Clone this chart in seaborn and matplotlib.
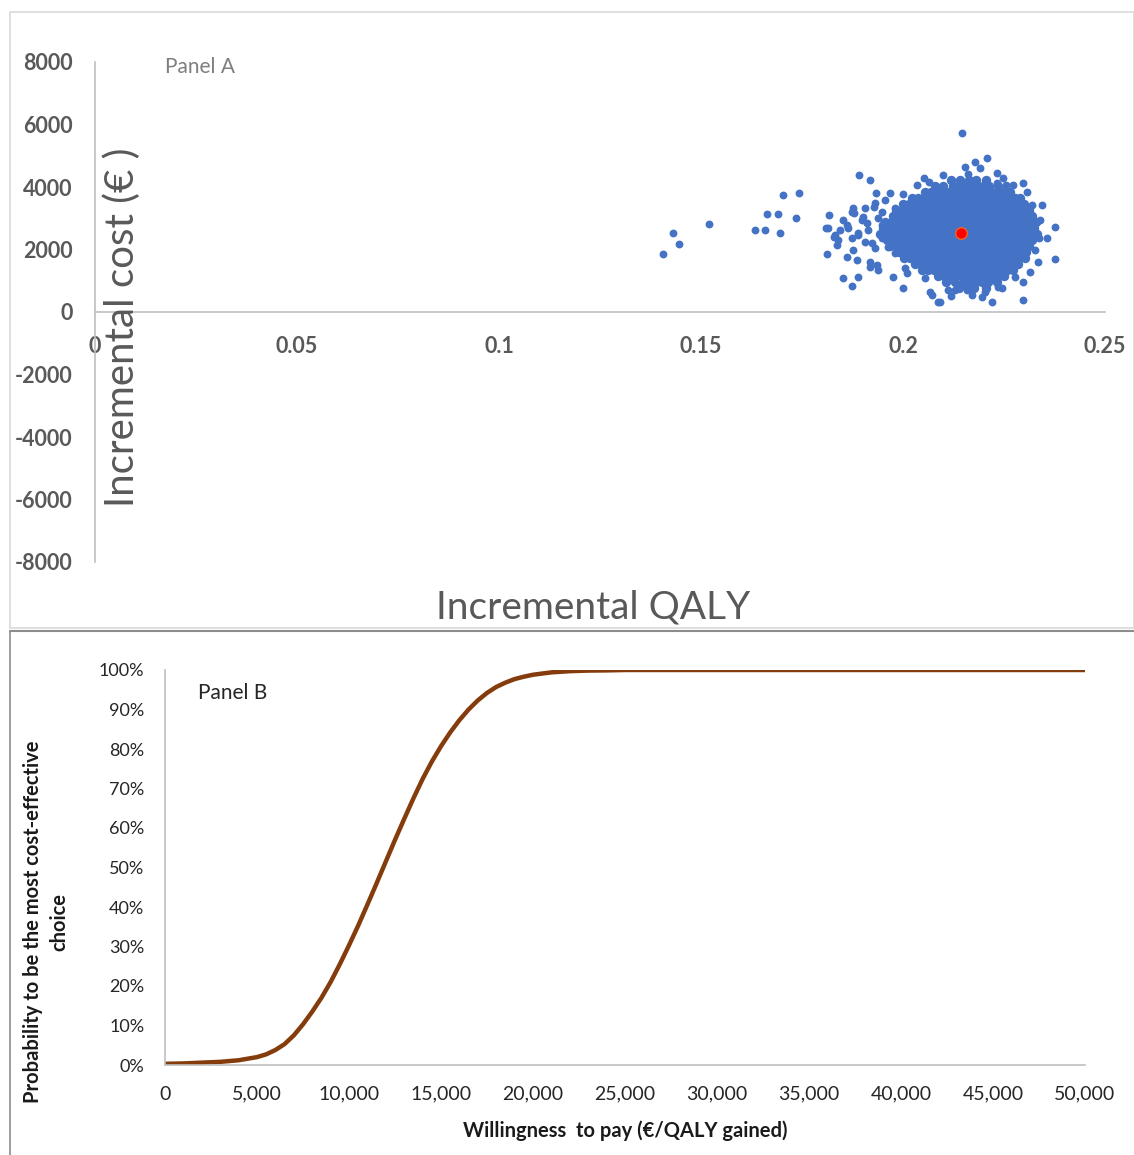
import matplotlib
matplotlib.use('Agg')
import matplotlib.pyplot as plt
import matplotlib.ticker as mticker
from matplotlib.patches import Rectangle
from matplotlib.lines import Line2D
import pandas as pd
import seaborn as sns

# ---- Panel A data (incremental QALY, incremental cost) ----
# dense core of the cloud, read row by row (cost level -> QALY values x 1e-4)
core_costs = [4220, 4030, 3840, 3650, 3460, 3260, 3070, 2880, 2690, 2500,
              2300, 2110, 1920, 1730, 1540, 1340, 1150, 960, 770]
core_qaly_rows = [
    [2120, 2141, 2163, 2180, 2206],
    [2079, 2100, 2124, 2139, 2154, 2169, 2184, 2199, 2214, 2236],
    [2054, 2069, 2084, 2099, 2114, 2129, 2144, 2159, 2174, 2189, 2204, 2219, 2234, 2249, 2264],
    [2022, 2037, 2052, 2067, 2082, 2097, 2112, 2127, 2142, 2157, 2172, 2187, 2202, 2217, 2232,
     2247, 2262, 2277, 2290],
    [2000, 2015, 2030, 2045, 2060, 2075, 2090, 2105, 2120, 2135, 2150, 2165, 2180, 2195, 2210,
     2225, 2240, 2255, 2270, 2285, 2300],
    [1983, 1998, 2013, 2028, 2043, 2058, 2073, 2088, 2103, 2118, 2133, 2148, 2163, 2178, 2193,
     2208, 2223, 2238, 2253, 2268, 2283, 2298, 2313],
    [1975, 1990, 2005, 2020, 2035, 2050, 2065, 2080, 2095, 2110, 2125, 2140, 2155, 2170, 2185,
     2200, 2215, 2230, 2245, 2260, 2275, 2290, 2305, 2320],
    [1955, 1970, 1985, 2000, 2015, 2030, 2045, 2060, 2075, 2090, 2105, 2120, 2135, 2150, 2165,
     2180, 2195, 2210, 2225, 2240, 2255, 2270, 2285, 2300, 2315, 2329],
    [1950, 1965, 1980, 1995, 2010, 2025, 2040, 2055, 2070, 2085, 2100, 2115, 2130, 2145, 2160,
     2175, 2190, 2205, 2220, 2235, 2250, 2265, 2280, 2295, 2310, 2325],
    [1943, 1958, 1973, 1988, 2003, 2018, 2033, 2048, 2063, 2078, 2093, 2108, 2123, 2138, 2153,
     2168, 2183, 2198, 2213, 2228, 2243, 2258, 2273, 2288, 2303, 2318, 2332],
    [1960, 1975, 1990, 2005, 2020, 2035, 2050, 2065, 2080, 2095, 2110, 2125, 2140, 2155, 2170,
     2185, 2200, 2215, 2230, 2245, 2260, 2275, 2290, 2305, 2320],
    [1968, 1983, 1998, 2013, 2028, 2043, 2058, 2073, 2088, 2103, 2118, 2133, 2148, 2163, 2178,
     2193, 2208, 2223, 2238, 2253, 2268, 2283, 2298, 2313],
    [1990, 2005, 2020, 2035, 2050, 2065, 2080, 2095, 2110, 2125, 2140, 2155, 2170, 2185, 2200,
     2215, 2230, 2245, 2260, 2275, 2290, 2305],
    [2002, 2017, 2032, 2047, 2062, 2077, 2092, 2107, 2122, 2137, 2152, 2167, 2182, 2197, 2212,
     2227, 2242, 2257, 2272, 2287, 2302],
    [2030, 2045, 2060, 2075, 2090, 2105, 2120, 2135, 2150, 2165, 2180, 2195, 2210, 2225, 2240,
     2255, 2270, 2285],
    [2047, 2062, 2077, 2092, 2107, 2122, 2137, 2152, 2167, 2182, 2197, 2212, 2227, 2242, 2257, 2272],
    [2086, 2101, 2116, 2131, 2146, 2161, 2176, 2191, 2206, 2221, 2236, 2250],
    [2106, 2128, 2151, 2166, 2181, 2196, 2211, 2233],
    [2138, 2160, 2176, 2205],
]

# scattered points around the core
scatter_qaly = [0.1405, 0.1431, 0.1446, 0.1520, 0.1634, 0.1659, 0.1663, 0.1691, 0.1695, 0.1703,
                0.1734, 0.1743,
                0.2145, 0.2178, 0.2207, 0.2153, 0.2191, 0.2232, 0.2100, 0.2232, 0.2273, 0.2298,
                0.2306, 0.2343, 0.2319, 0.1892, 0.1918, 0.2052, 0.2035, 0.1933, 0.1968, 0.2001,
                0.1875, 0.1879, 0.1817,
                0.1815, 0.1832, 0.1836, 0.1811, 0.1865, 0.1889, 0.1914, 0.1947, 0.1906, 0.1931,
                0.1873, 0.1840, 0.1898, 0.1939, 0.1972, 0.1964, 0.1980, 0.1927, 0.1947, 0.1980,
                0.1902, 0.1873, 0.1861, 0.1889, 0.1910, 0.1923, 0.1947, 0.1906, 0.1931, 0.1955,
                0.1852, 0.1877, 0.1844, 0.1809, 0.1828,
                0.1852, 0.1874, 0.1889, 0.1861, 0.1885, 0.1918, 0.1935, 0.1918, 0.1939, 0.1976,
                0.2001, 0.2005, 0.2009, 0.2050, 0.2054, 0.2067, 0.2071, 0.2087,
                0.2376, 0.2337, 0.2356, 0.2376, 0.2335, 0.2314, 0.2298, 0.2298, 0.2277, 0.2244,
                0.2236, 0.2203, 0.2195, 0.2220, 0.2158, 0.2129, 0.2112, 0.2092, 0.2339, 0.2327,
                0.2065, 0.2160, 0.2248, 0.2255, 0.2172, 0.2118]
scatter_cost = [1846, 2534, 2186, 2806, 2634, 2634, 3146, 3146, 2528, 3744,
                3018, 3818,
                5738, 4810, 4918, 4650, 4598, 4438, 4384, 4118, 4064, 4118,
                3850, 3424, 3424, 4384, 4224, 4278, 4064, 3798, 3798, 3766,
                3318, 3158, 3104,
                2678, 2464, 2144, 1846, 2678, 2518, 2624, 2784, 2250, 2038,
                2358, 2304, 2944, 2998, 2570, 2090, 1878, 3370, 3210, 3318,
                3050, 3210, 2784, 2464, 2838, 2198, 2358, 3318, 3478, 3584,
                2944, 1984, 2624, 2698, 2410,
                1078, 832, 1130, 1770, 1664, 1610, 1504, 1450, 1344, 1130,
                778, 1398, 1238, 1398, 1078, 650, 544, 330,
                2730, 2358, 2358, 1686, 1610, 1290, 970, 384, 1130, 758,
                810, 650, 490, 310, 704, 704, 704, 310, 2944, 1984,
                4150, 4420, 4280, 4060, 560, 520]

mean_qaly = [0.2143]
mean_cost = [2538]

# ---- Panel B data (CEAC) ----
wtp = [0, 1000, 2000, 3000, 4000, 5000, 5500, 6000, 6500, 7000, 7500, 8000, 8500, 9000,
       9500, 10000, 10500, 11000, 11500, 12000, 12500, 13000, 13500, 14000, 14500, 15000,
       15500, 16000, 16500, 17000, 17500, 18000, 18500, 19000, 19500, 20000, 21000, 22000,
       23000, 24000, 25000, 50000]
prob = [0.003, 0.004, 0.006, 0.008, 0.012, 0.020, 0.027, 0.038, 0.053, 0.075, 0.103, 0.135,
        0.170, 0.210, 0.255, 0.303, 0.353, 0.406, 0.460, 0.515, 0.570, 0.623, 0.675, 0.724,
        0.768, 0.807, 0.842, 0.873, 0.900, 0.923, 0.942, 0.957, 0.968, 0.977, 0.983, 0.988,
        0.994, 0.997, 0.9985, 0.999, 1.0, 1.0]

# build the scatter tables
rows_q, rows_c = [], []
for c, qs in zip(core_costs, core_qaly_rows):
    for q in qs:
        rows_q.append(q / 10000)
        rows_c.append(c)
df_core = pd.DataFrame({'qaly': rows_q, 'cost': rows_c})
df_pts = pd.DataFrame({'qaly': scatter_qaly, 'cost': scatter_cost})
df_b = pd.DataFrame({'wtp': wtp, 'prob': prob})

sns.set_style('white')
plt.rcParams['font.family'] = ['Lato', 'DejaVu Sans']
plt.rcParams['axes.unicode_minus'] = False

fig = plt.figure(figsize=(11.34, 11.55), dpi=100)
W, H = 1134, 1155

grey_txt = '#595959'
axis_grey = '#BFBFBF'
blue = '#4472C4'

# ---------------- Panel A ----------------
ax1 = fig.add_axes([95 / W, 1 - 562 / H, 1010 / W, 500 / H])
sns.scatterplot(data=df_core, x='qaly', y='cost', ax=ax1, color=blue, s=46,
                linewidth=0, legend=False)
sns.scatterplot(data=df_pts, x='qaly', y='cost', ax=ax1, color=blue, s=32,
                linewidth=0, legend=False)
ax1.scatter(mean_qaly, mean_cost, s=70, color='#FF0000', edgecolor='#F26522',
            linewidth=1, zorder=5)
ax1.set_xlim(0, 0.25)
ax1.set_ylim(-8000, 8000)
ax1.spines['top'].set_visible(False)
ax1.spines['right'].set_visible(False)
ax1.spines['bottom'].set_position(('data', 0))
ax1.spines['left'].set_position(('data', 0))
for s in ['bottom', 'left']:
    ax1.spines[s].set_color(axis_grey)
    ax1.spines[s].set_linewidth(1.2)
ax1.set_xticks([0, 0.05, 0.1, 0.15, 0.2, 0.25])
ax1.set_xticklabels(['0', '0.05', '0.1', '0.15', '0.2', '0.25'])
ax1.set_yticks(range(-8000, 8001, 2000))
ax1.tick_params(axis='x', direction='out', length=5, width=1.2, color=axis_grey,
                pad=12, labelsize=15.5, labelcolor=grey_txt)
ax1.tick_params(axis='y', length=0, pad=16, labelsize=15.5, labelcolor=grey_txt)
for lab in ax1.get_xticklabels() + ax1.get_yticklabels():
    lab.set_fontweight('bold')
ax1.set_xlabel('')
ax1.set_ylabel('')
ax1.text(165 / W, 1 - 67 / H, 'Panel A', transform=fig.transFigure, fontsize=15,
         color='#7F7F7F', va='center', ha='left')
fig.text(122 / W, 1 - 327 / H, 'Incremental cost (€ )', rotation=90, fontsize=29,
         color=grey_txt, ha='center', va='center')
fig.text(593 / W, 1 - 607 / H, 'Incremental QALY', fontsize=28, color=grey_txt,
         ha='center', va='center')

# ---------------- Panel B ----------------
ax2 = fig.add_axes([165 / W, 1 - 1065 / H, 920 / W, 395 / H])
sns.lineplot(data=df_b, x='wtp', y='prob', ax=ax2, color='#843C0C', linewidth=3.2)
ax2.lines[0].set_solid_joinstyle('round')
ax2.set_xlim(0, 50000)
ax2.set_ylim(0, 1)
ax2.spines['top'].set_visible(False)
ax2.spines['right'].set_visible(False)
for s in ['bottom', 'left']:
    ax2.spines[s].set_color(axis_grey)
    ax2.spines[s].set_linewidth(1.2)
ax2.set_xticks(range(0, 50001, 5000))
ax2.xaxis.set_major_formatter(mticker.FuncFormatter(lambda v, p: f'{int(v):,}'))
ax2.set_yticks([i / 10 for i in range(11)])
ax2.yaxis.set_major_formatter(mticker.PercentFormatter(1.0, decimals=0))
ax2.tick_params(axis='x', direction='out', length=5, width=1.2, color=axis_grey,
                pad=10, labelsize=14, labelcolor='#262626')
ax2.tick_params(axis='y', direction='out', length=6, width=1.2, color=axis_grey,
                pad=9, labelsize=13, labelcolor='#262626')
ax2.set_xlabel('')
ax2.set_ylabel('')
fig.text(198 / W, 1 - 693 / H, 'Panel B', fontsize=15, color='#262626',
         ha='left', va='center')
fig.text(46 / W, 1 - 922 / H, 'Probability to be the most cost-effective\nchoice',
         rotation=90, fontsize=14.5, fontweight='bold', color='#1a1a1a',
         ha='center', va='center', multialignment='center', linespacing=1.4)
fig.text(625 / W, 1 - 1131 / H, 'Willingness  to pay (€/QALY gained)', fontsize=14.5,
         fontweight='bold', color='#1a1a1a', ha='center', va='center')

# panel frames
fig.add_artist(Rectangle((10 / W, 1 - 628 / H), 1124 / W, 616 / H, transform=fig.transFigure,
                         fill=False, edgecolor='#D9D9D9', linewidth=1.2))
fig.add_artist(Line2D([10 / W, 1], [1 - 631 / H, 1 - 631 / H], transform=fig.transFigure,
                      color='#8C8C8C', linewidth=1.5))
fig.add_artist(Line2D([10 / W, 10 / W], [1 - 631 / H, 0], transform=fig.transFigure,
                      color='#8C8C8C', linewidth=1.2))

fig.savefig('out.png', dpi=100)
